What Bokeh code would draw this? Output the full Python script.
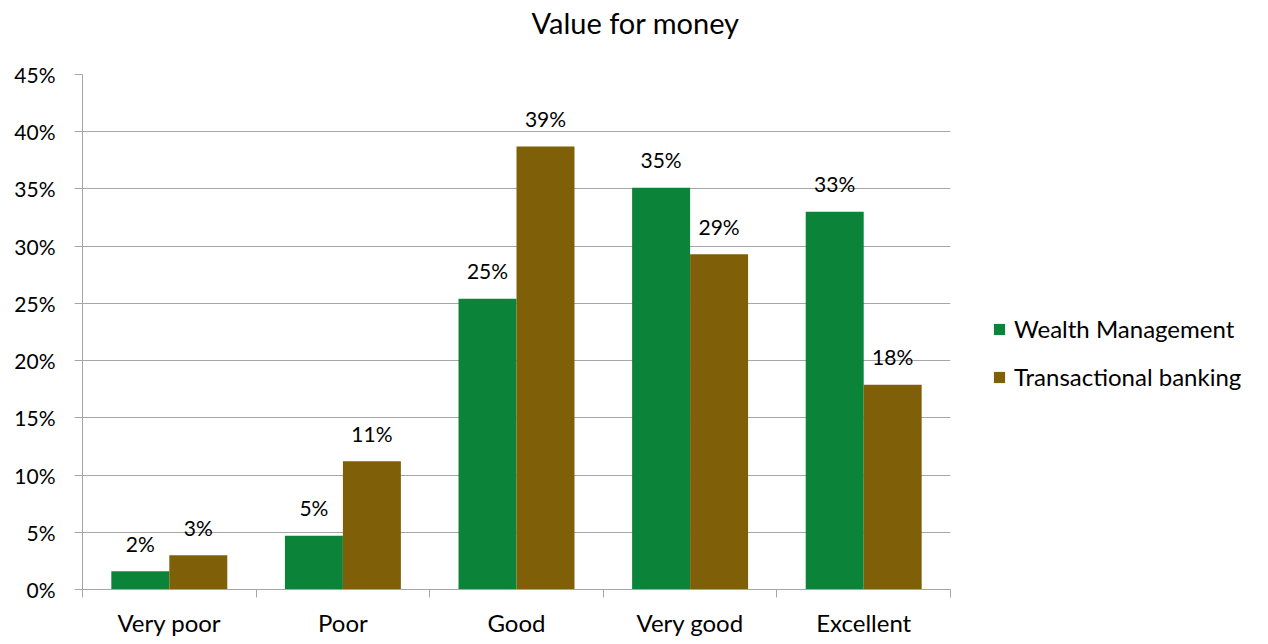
from bokeh.plotting import figure
from bokeh.models import (ColumnDataSource, Range1d, FixedTicker, PrintfTickFormatter,
                          Legend, LegendItem, LinearAxis)
from bokeh.transform import dodge
from bokeh.core.properties import value
from bokeh.embed import file_html
from bokeh.resources import INLINE

categories = ["Very poor", "Poor", "Good", "Very good", "Excellent"]
wealth = [1.6, 4.7, 25.4, 35.1, 33.0]
transactional = [3.0, 11.2, 38.7, 29.3, 17.9]
series_names = ["Wealth Management", "Transactional banking"]
y_ticks = [0, 5, 10, 15, 20, 25, 30, 35, 40, 45]
title_text = "Value for money"

FONT = "Lato"
GREEN = "#0B8439"
BROWN = "#7F6009"
GRID = "#A6A6A6"

xpos = [i + 0.5 for i in range(len(categories))]
src = ColumnDataSource(dict(
    x=xpos,
    cat=categories,
    w=wealth,
    t=transactional,
    wl=["%d%%" % round(v) for v in wealth],
    tl=["%d%%" % round(v) for v in transactional],
))

p = figure(width=1252, height=628, output_backend="svg", toolbar_location=None,
           x_range=Range1d(0, len(categories)), y_range=Range1d(0, 45),
           frame_width=868, frame_height=515,
           min_border_left=82, min_border_top=74, min_border_right=302, min_border_bottom=39)
p.outline_line_color = None
p.background_fill_color = "white"
p.border_fill_color = "white"

p.title.text = title_text
p.title.align = "left"
p.title.offset = 449
p.title.vertical_align = "middle"
p.title.standoff = 7
p.title.text_font = FONT
p.title.text_font_size = "29px"
p.title.text_font_style = "normal"
p.title.text_color = "black"

# spacer between frame and title (axis whose tick is fully transparent)
spacer = LinearAxis(ticker=FixedTicker(ticks=[xpos[2]], minor_ticks=[]),
                    axis_line_color=None,
                    major_tick_line_color="white", major_tick_line_alpha=0.0,
                    minor_tick_line_color=None,
                    major_tick_out=30, major_tick_in=0, minor_tick_out=0, minor_tick_in=0,
                    major_label_standoff=0, major_label_text_font_size="1px",
                    major_label_text_alpha=0.0,
                    major_label_overrides={xpos[2]: " "})
p.above = [spacer] + [a for a in p.above]

bw = 0.334
r1 = p.vbar(x=dodge("x", -bw / 2), top="w", width=bw, source=src, fill_color=GREEN, line_color=None)
r2 = p.vbar(x=dodge("x", bw / 2), top="t", width=bw, source=src, fill_color=BROWN, line_color=None)

p.text(x=dodge("x", -bw / 2), y="w", text="wl", source=src, text_align="center",
       text_baseline="alphabetic", y_offset=-28, text_font=value(FONT),
       text_font_size="21px", text_color="black")
p.text(x=dodge("x", bw / 2), y="t", text="tl", source=src, text_align="center",
       text_baseline="alphabetic", y_offset=-28, text_font=value(FONT),
       text_font_size="21px", text_color="black")

# y axis
p.yaxis.ticker = FixedTicker(ticks=y_ticks)
p.yaxis.formatter = PrintfTickFormatter(format="%d%%")
p.yaxis.axis_line_color = GRID
p.yaxis.major_tick_line_color = GRID
p.yaxis.major_tick_out = 8
p.yaxis.major_tick_in = 0
p.yaxis.minor_tick_line_color = None
p.yaxis.major_label_standoff = 19
p.yaxis.major_label_text_font = FONT
p.yaxis.major_label_text_font_size = "21px"
p.yaxis.major_label_text_color = "black"

# x axis
xa = p.below[0]
xa.ticker = FixedTicker(ticks=xpos, minor_ticks=list(range(len(categories) + 1)))
xa.major_label_overrides = {x: c for x, c in zip(xpos, categories)}
xa.axis_line_color = GRID
xa.major_tick_line_color = None
xa.major_tick_out = 0
xa.major_tick_in = 0
xa.minor_tick_line_color = GRID
xa.minor_tick_out = 8
xa.minor_tick_in = 0
xa.major_label_standoff = 10
xa.major_label_text_font = FONT
xa.major_label_text_font_size = "24px"
xa.major_label_text_color = "black"

p.xgrid.grid_line_color = None
p.ygrid.ticker = FixedTicker(ticks=y_ticks)
p.ygrid.grid_line_color = GRID
p.ygrid.grid_line_width = 1

legend = Legend(items=[LegendItem(label=series_names[0], renderers=[r1]),
                       LegendItem(label=series_names[1], renderers=[r2])],
                location=(42, 198), orientation="vertical",
                glyph_width=14, glyph_height=14, label_standoff=8, spacing=19,
                padding=0, margin=0, border_line_color=None, background_fill_alpha=0,
                label_text_font=FONT, label_text_font_size="24px", label_text_color="black")
p.add_layout(legend, "right")

open("out.html", "w").write(file_html(p, INLINE))
